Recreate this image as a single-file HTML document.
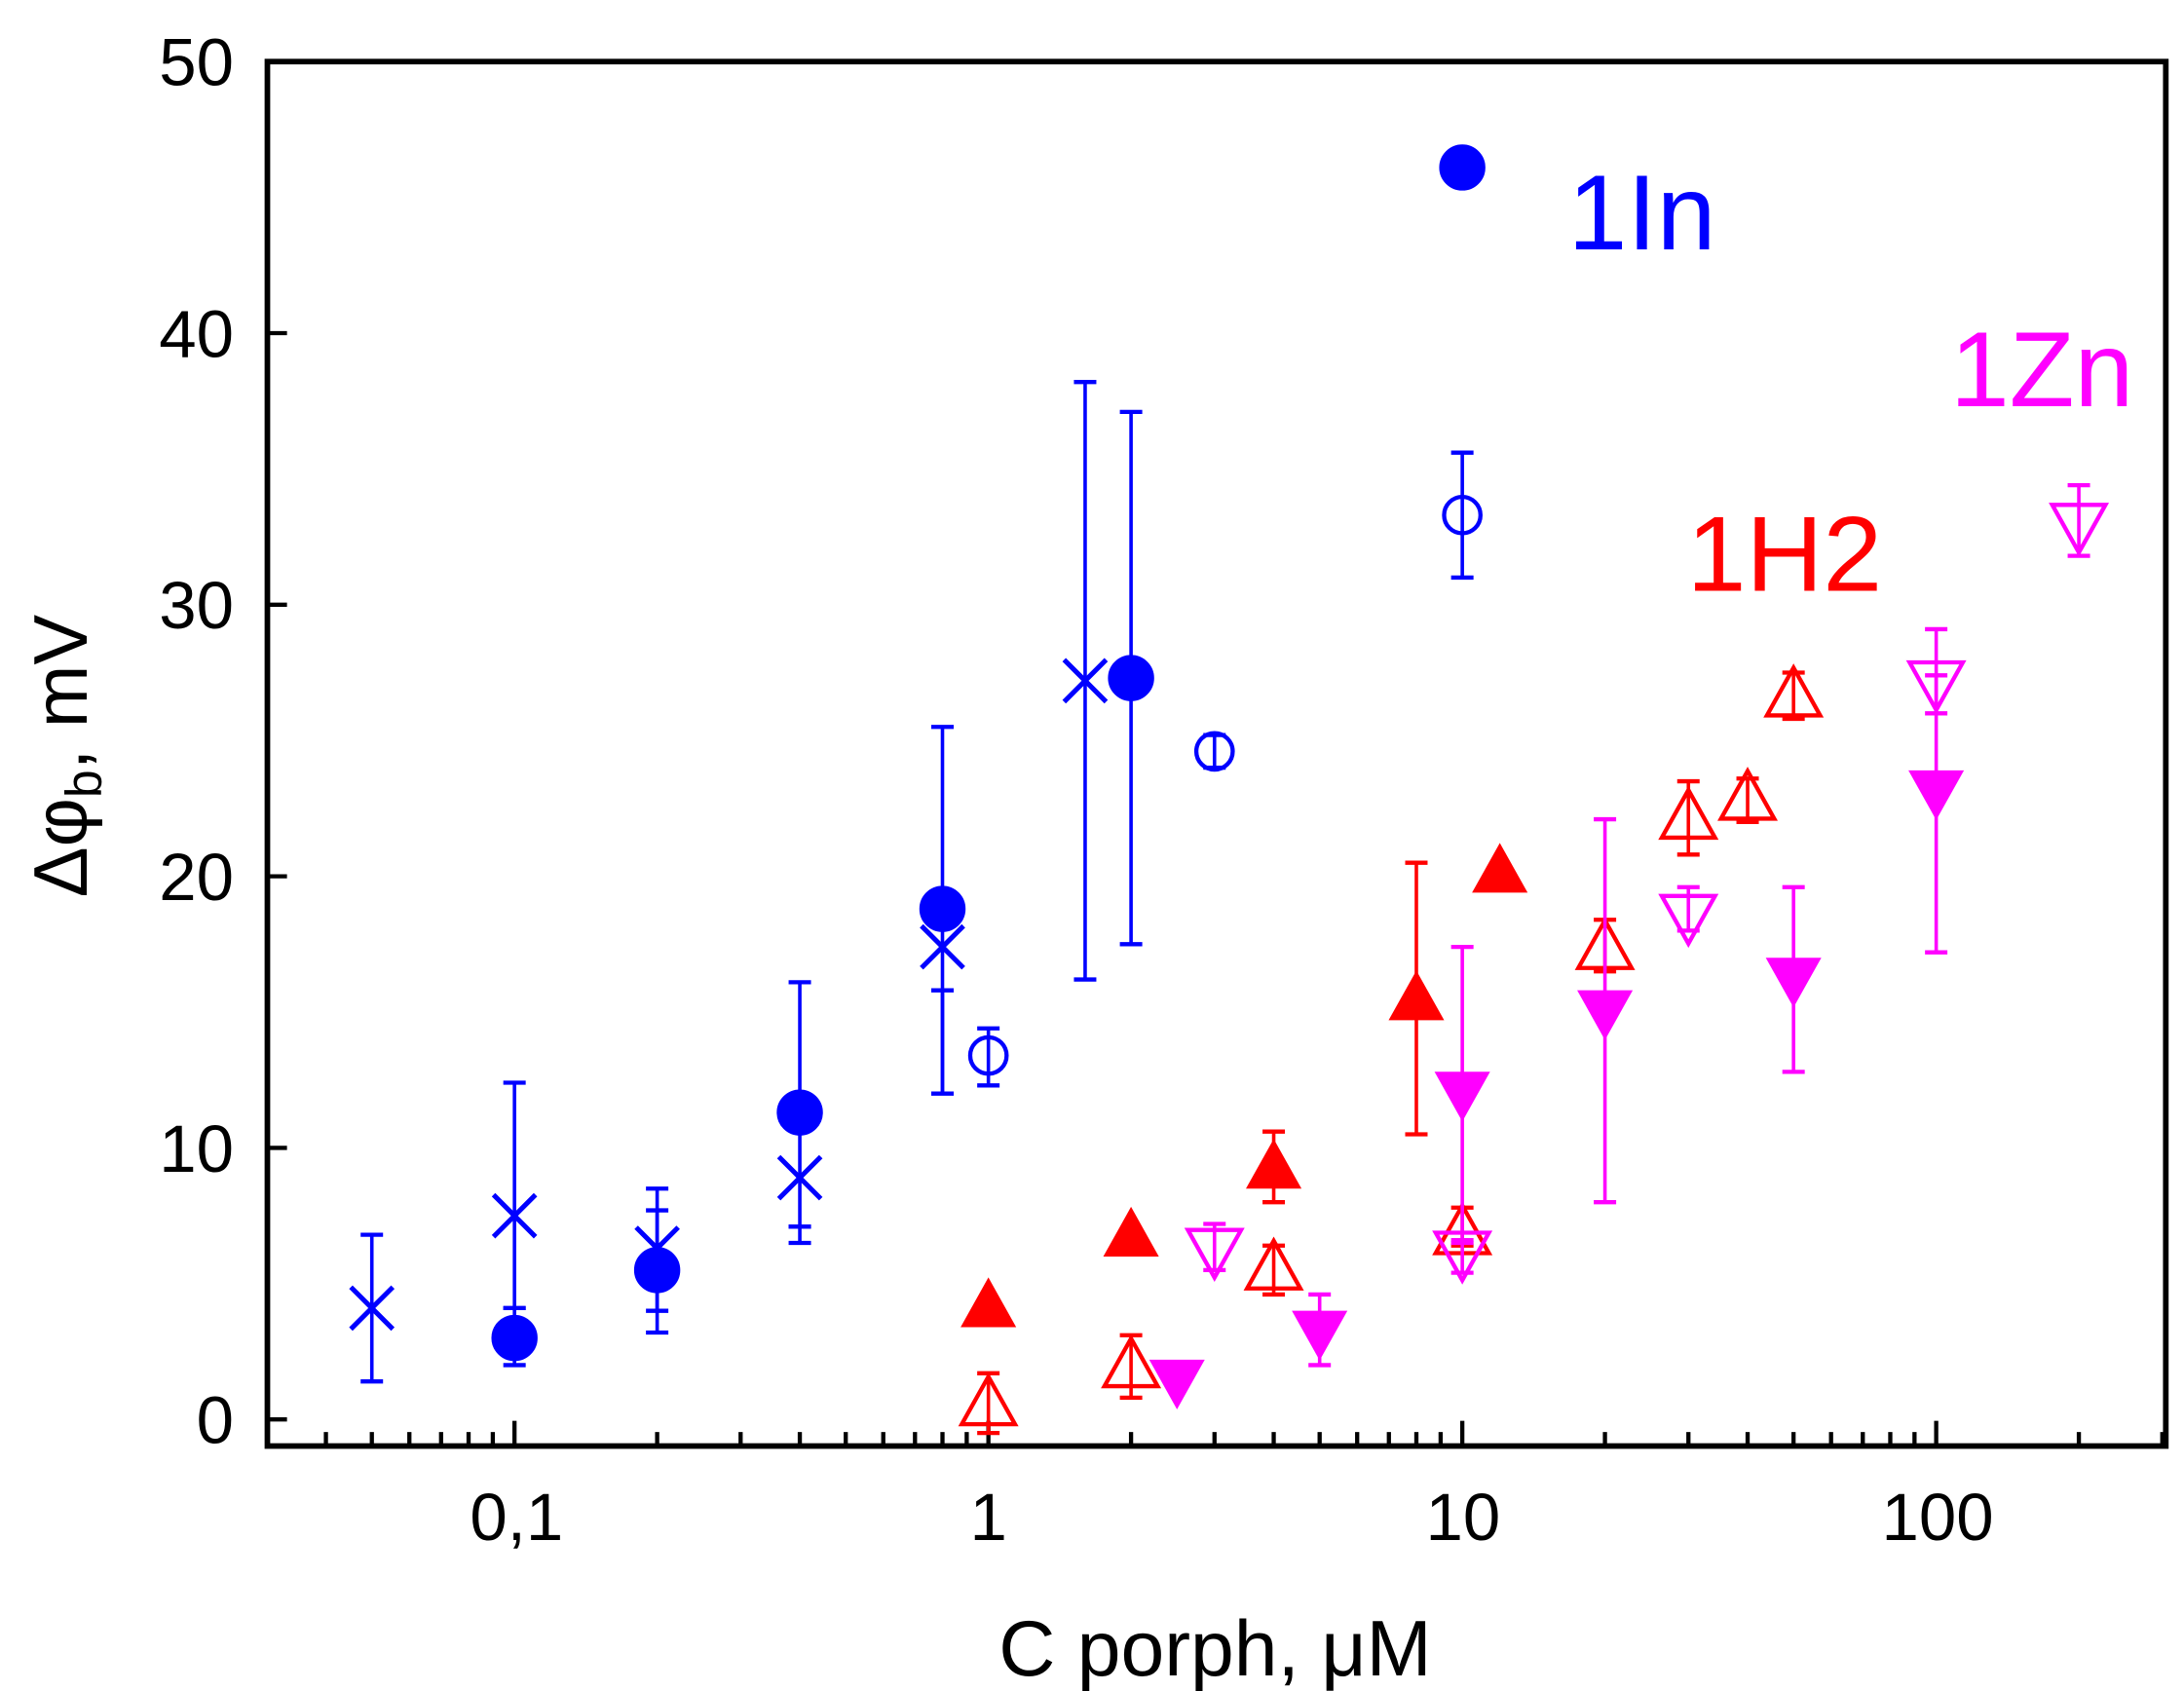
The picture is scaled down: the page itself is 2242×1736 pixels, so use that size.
<!DOCTYPE html>
<html><head><meta charset="utf-8"><style>html,body{margin:0;padding:0;background:#fff}svg{display:block}</style></head>
<body>
<svg id="s" xmlns="http://www.w3.org/2000/svg" width="2242" height="1736" viewBox="0 0 1560 1208" preserveAspectRatio="none" font-family="Liberation Sans, Arial, sans-serif">
<rect x="0" y="0" width="1560" height="1208" fill="#fff"/>
<g id="ticks" stroke="#000" stroke-width="3"></g>
<g id="data"></g>
<rect x="191" y="44" width="1356" height="989" fill="none" stroke="#000" stroke-width="4"/>
<g font-size="48" fill="#000" text-anchor="end">
<text x="167" y="61">50</text><text x="167" y="255">40</text><text x="167" y="449">30</text>
<text x="167" y="643">20</text><text x="167" y="837">10</text><text x="167" y="1031">0</text>
</g>
<g font-size="48" fill="#000" text-anchor="middle">
<text x="369" y="1100">0,1</text><text x="706" y="1100">1</text><text x="1045" y="1100">10</text><text x="1384" y="1100">100</text>
</g>
<text x="868" y="1197" font-size="56" text-anchor="middle">C porph, μM</text>
<text transform="translate(62,540) rotate(-90)" font-size="54" text-anchor="middle">Δφ<tspan font-size="36" dy="10">b</tspan><tspan dy="-10">, mV</tspan></text>
<text x="1120" y="178" font-size="76" fill="#0000ff">1In</text>
<text x="1205" y="422" font-size="76" fill="#ff0000">1H2</text>
<text x="1393" y="290" font-size="76" fill="#ff00ff">1Zn</text>
</svg>
<script>
const NS="http://www.w3.org/2000/svg";
const X=v=>706+338.5*Math.log10(v), Y=v=>1014-19.4*v;
const t=document.getElementById('ticks'), d=document.getElementById('data');
function el(tag,a,p){const e=document.createElementNS(NS,tag);for(const k in a)e.setAttribute(k,a[k]);(p||d).appendChild(e);return e;}
for(let dec=-2;dec<=2;dec++)for(let m=1;m<10;m++){const v=m*Math.pow(10,dec);const x=X(v);if(x<193||x>1545)continue;el('line',{x1:x,x2:x,y1:1033,y2:m==1?1015:1023},t);}
for(let v=0;v<=40;v+=10)el('line',{x1:191,x2:205,y1:Y(v),y2:Y(v)},t);
function err(x,lo,hi,c){const xx=X(x);el('line',{x1:xx,x2:xx,y1:Y(lo),y2:Y(hi),stroke:c,'stroke-width':2.5});
 [lo,hi].forEach(v=>el('line',{x1:xx-8,x2:xx+8,y1:Y(v),y2:Y(v),stroke:c,'stroke-width':3}));}
function circ(x,y,c,fill){el('circle',{cx:X(x),cy:Y(y),r:fill?16:13,fill:fill?c:'none',stroke:c,'stroke-width':fill?1:3});}
function cross(x,y,c){const a=X(x),b=Y(y),s=15;el('path',{d:`M${a-s} ${b-s}L${a+s} ${b+s}M${a-s} ${b+s}L${a+s} ${b-s}`,stroke:c,'stroke-width':3.5,fill:'none'});}
function tri(x,y,c,fill,up){const a=X(x),b=Y(y),w=19,h=17;const p=up?`M${a} ${b-h}L${a+w} ${b+h}L${a-w} ${b+h}Z`:`M${a} ${b+h}L${a+w} ${b-h}L${a-w} ${b-h}Z`;el('path',{d:p,fill:fill?c:'none',stroke:c,'stroke-width':fill?1:3});}
const B='#0000ff',R='#ff0000',M='#ff00ff';
[[0.05,4.1,1.4,6.8],[0.1,7.5,4.1,12.4],[0.2,6.3,4.0,7.7],[0.4,8.9,6.5,7.1],[0.8,17.4,12.0,15.8],[1.6,27.2,16.2,38.2]].forEach(p=>{err(p[0],p[2],p[3],B);cross(p[0],p[1],B);});
[[0.1,3.0,2.0,4.1],[0.2,5.5,3.2,8.5],[0.4,11.3,7.1,16.1],[0.8,18.8,12.0,25.5],[2,27.3,17.5,37.1]].forEach(p=>{err(p[0],p[2],p[3],B);circ(p[0],p[1],B,1);});
circ(10,46.1,B,1);
[[1,13.4,12.3,14.4],[3,24.6,24.0,25.2],[10,33.3,31.0,35.6]].forEach(p=>{err(p[0],p[2],p[3],B);circ(p[0],p[1],B,0);});
[[1,4.3],[2,6.9],[4,9.4,8.0,10.6],[8,15.6,10.5,20.5],[12,20.3]].forEach(p=>{if(p[2]!==undefined)err(p[0],p[2],p[3],R);tri(p[0],p[1],R,1,1);});
[[1,0.7,-0.5,1.7],[2,2.1,0.8,3.1],[4,5.7,4.6,6.4],[10,7.0,6.4,7.8],[20,17.5,16.5,18.4],[30,22.3,20.8,23.5],[40,23.0,22.0,23.6],[50,26.8,25.8,27.5]].forEach(p=>{err(p[0],p[2],p[3],R);tri(p[0],p[1],R,0,1);});
[[2.5,1.3],[5,3.1,2.0,4.6],[10,11.9,6.5,17.4],[20,14.9,8.0,22.1],[50,16.1,12.8,19.6],[100,23.0,17.2,27.4]].forEach(p=>{if(p[2]!==undefined)err(p[0],p[2],p[3],M);tri(p[0],p[1],M,1,0);});
[[3,6.1,5.5,7.2],[10,6.0,5.4,6.6],[30,18.4,18.0,19.6],[100,27.0,26.0,29.1],[200,32.8,31.8,34.4]].forEach(p=>{err(p[0],p[2],p[3],M);tri(p[0],p[1],M,0,0);});
</script>
</body></html>
